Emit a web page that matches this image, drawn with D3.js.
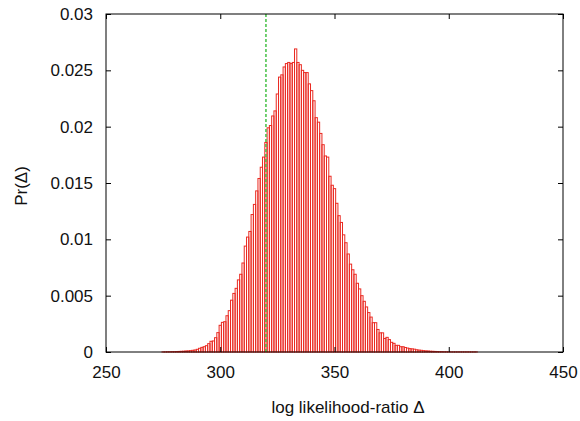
<!DOCTYPE html>
<html>
<head>
<meta charset="utf-8">
<script src="https://cdn.jsdelivr.net/npm/d3@7"></script>
<style>
body { margin: 0; background: #fff; }
svg { display: block; font-family: 'Liberation Sans', Helvetica, Arial, sans-serif; }
</style>
</head>
<body>
<div id="chart"></div>
<script>
// bins of the log likelihood-ratio
let delta = [
  275, 276, 277, 278, 279, 280, 281, 282, 283, 284,
  285, 286, 287, 288, 289, 290, 291, 292, 293, 294,
  295, 296, 297, 298, 299, 300, 301, 302, 303, 304,
  305, 306, 307, 308, 309, 310, 311, 312, 313, 314,
  315, 316, 317, 318, 319, 320, 321, 322, 323, 324,
  325, 326, 327, 328, 329, 330, 331, 332, 333, 334,
  335, 336, 337, 338, 339, 340, 341, 342, 343, 344,
  345, 346, 347, 348, 349, 350, 351, 352, 353, 354,
  355, 356, 357, 358, 359, 360, 361, 362, 363, 364,
  365, 366, 367, 368, 369, 370, 371, 372, 373, 374,
  375, 376, 377, 378, 379, 380, 381, 382, 383, 384,
  385, 386, 387, 388, 389, 390, 391, 392, 393, 394,
  395, 396, 397, 398, 399, 400, 401, 402, 403, 404,
  405, 406, 407, 408, 409, 410, 411, 412
];

// Pr(delta)
let prob = [
  0.00001, 0.00001, 0.00002, 0.00002, 0.00003, 0.00003, 0.00004, 0.00005, 0.00006, 0.00007,
  0.00009, 0.0001, 0.00012, 0.00015, 0.00018, 0.00024, 0.00033, 0.00041, 0.00047, 0.00056,
  0.00074, 0.00095, 0.00098, 0.00127, 0.00172, 0.00237, 0.00263, 0.00269, 0.00322, 0.00367,
  0.0046, 0.0052, 0.00565, 0.0064, 0.0069, 0.0079, 0.0094, 0.0102, 0.0107, 0.0122,
  0.0131, 0.0143, 0.0154, 0.0164, 0.0173, 0.0186, 0.0199, 0.0201, 0.02095, 0.0214,
  0.0229, 0.0244, 0.0246, 0.0253, 0.0256, 0.0257, 0.0256, 0.0257, 0.0269, 0.0257,
  0.0255, 0.025, 0.0248, 0.0248, 0.0238, 0.0232, 0.0223, 0.0208, 0.0204, 0.0194,
  0.0184, 0.0174, 0.0173, 0.0156, 0.0148, 0.0145, 0.0132, 0.0121, 0.0115, 0.0104,
  0.0097, 0.0087, 0.0078, 0.0073, 0.0069, 0.0061, 0.0056, 0.005, 0.0045, 0.004,
  0.0035, 0.0031, 0.0026, 0.0026, 0.002, 0.0017, 0.0017, 0.0012, 0.0013, 0.0011,
  0.00086, 0.00077, 0.00059, 0.00059, 0.00047, 0.00047, 0.0004, 0.00035, 0.0003, 0.00028,
  0.00025, 0.0002, 0.00017, 0.00015, 0.00012, 0.0001, 0.00009, 0.00007, 0.00006, 0.00005,
  0.00004, 0.00003, 0.00003, 0.00002, 0.00002, 0.00001, 0.00001, 0.00001, 0.00001, 0.00001,
  0.00001, 0.00001, 0.00001, 0.00001, 0.00001, 0.00001, 0.00001, 0.00001
];

let xTicks = [250, 300, 350, 400, 450];
let yTicks = [0, 0.005, 0.01, 0.015, 0.02, 0.025, 0.03];
let yTickLabels = ['0', '0.005', '0.01', '0.015', '0.02', '0.025', '0.03'];
let threshold = 320;

let width = 580;
let height = 421;

let margin = {
  top: 14,
  right: 17,
  bottom: 69,
  left: 106
};

let x = d3.scaleLinear()
  .domain([250, 450])
  .range([margin.left, width - margin.right]);

let y = d3.scaleLinear()
  .domain([0, 0.03])
  .range([height - margin.bottom, margin.top]);

// ticks point inwards, like gnuplot
let xAxis = g => g
  .attr('transform', `translate(0, ${height - margin.bottom})`)
  .call(d3.axisBottom(x).tickValues(xTicks).tickSize(-5).tickFormat(d3.format('d')))
  .call(g => g.select('.domain').remove())
  .call(g => g.selectAll('.tick text').attr('y', 14).attr('font-size', 17).attr('fill', '#111'));

let yAxis = g => g
  .attr('transform', `translate(${margin.left}, 0)`)
  .call(d3.axisLeft(y).tickValues(yTicks).tickSize(-5).tickFormat((d, i) => yTickLabels[i]))
  .call(g => g.select('.domain').remove())
  .call(g => g.selectAll('.tick text').attr('x', -13).attr('font-size', 17).attr('fill', '#111'));

let xMirror = g => g
  .attr('transform', `translate(0, ${margin.top})`)
  .call(d3.axisTop(x).tickValues(xTicks).tickSize(-5).tickFormat(''))
  .call(g => g.select('.domain').remove());

let yMirror = g => g
  .attr('transform', `translate(${width - margin.right}, 0)`)
  .call(d3.axisRight(y).tickValues(yTicks).tickSize(-5).tickFormat(''))
  .call(g => g.select('.domain').remove());

let chart = function() {
  const svg = d3.select('#chart').append('svg')
    .attr('width', width)
    .attr('height', height);

  let bins = delta.map((d, i) => ({delta: d, p: prob[i]}));

  svg.append('g')
    .selectAll('rect')
    .data(bins)
    .join('rect')
    .attr('x', d => x(d.delta - 0.5))
    .attr('width', d => x(d.delta + 0.5) - x(d.delta - 0.5))
    .attr('y', d => y(d.p))
    .attr('height', d => y(0) - y(d.p))
    .attr('fill', 'none')
    .attr('stroke', '#ea2a22')
    .attr('stroke-width', 1);

  svg.append('line')
    .attr('x1', x(threshold))
    .attr('x2', x(threshold))
    .attr('y1', y(0))
    .attr('y2', y(0.03))
    .attr('stroke', '#44c044')
    .attr('stroke-width', 1.5)
    .attr('stroke-dasharray', '3,2');

  svg.append('g').call(xAxis);
  svg.append('g').call(yAxis);
  svg.append('g').call(xMirror);
  svg.append('g').call(yMirror);

  svg.append('rect')
    .attr('x', margin.left)
    .attr('y', margin.top)
    .attr('width', width - margin.left - margin.right)
    .attr('height', height - margin.top - margin.bottom)
    .attr('fill', 'none')
    .attr('stroke', '#000')
    .attr('stroke-width', 1);

  svg.append('text')
    .attr('x', 348)
    .attr('y', 413)
    .attr('text-anchor', 'middle')
    .attr('font-size', 17)
    .attr('fill', '#111')
    .text('log likelihood-ratio Δ');

  svg.append('text')
    .attr('transform', 'translate(27, 186) rotate(-90)')
    .attr('text-anchor', 'middle')
    .attr('font-size', 17)
    .attr('fill', '#111')
    .text('Pr(Δ)');
}

chart();
</script>
</body>
</html>
